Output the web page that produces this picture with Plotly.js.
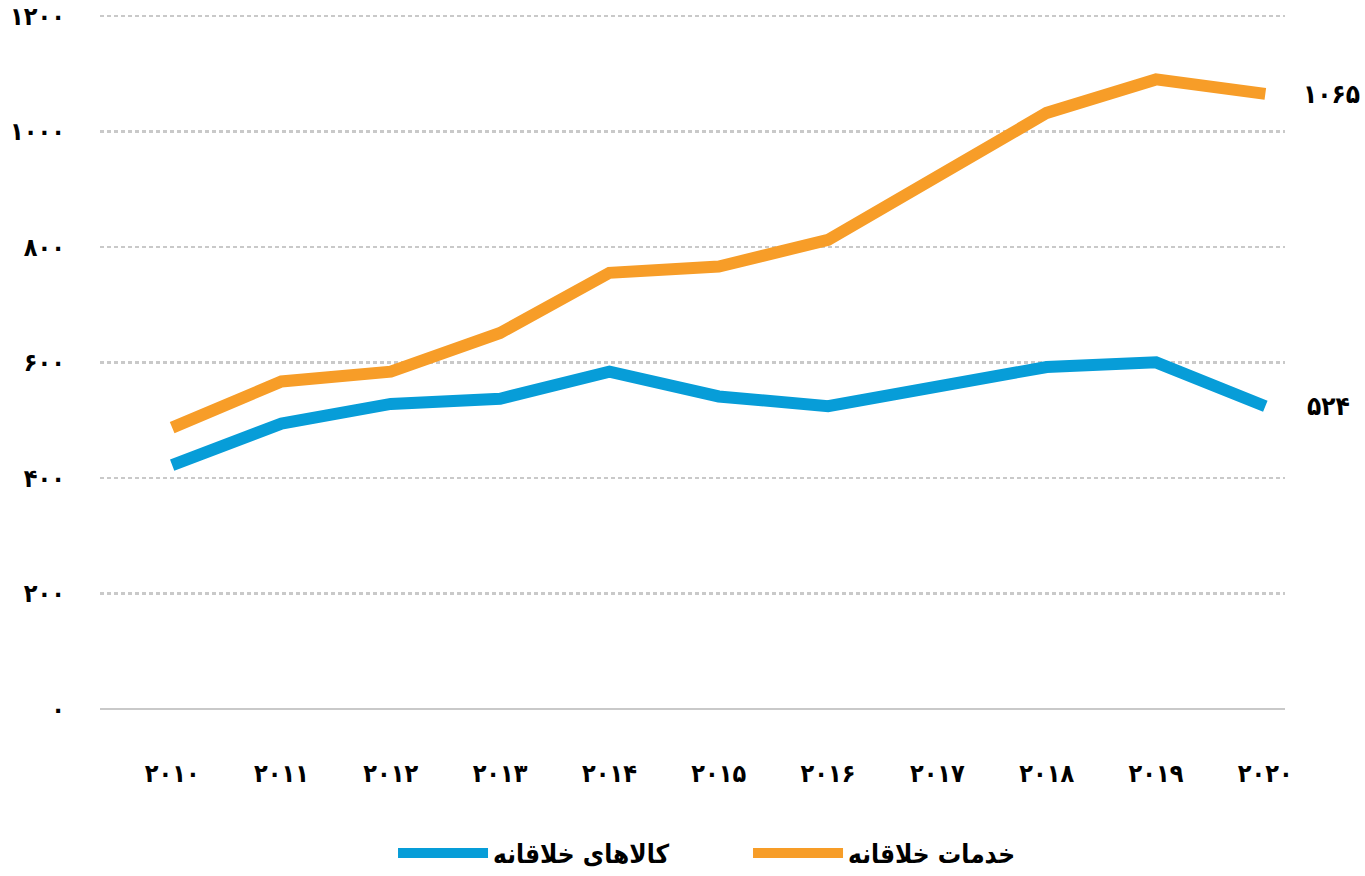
<!DOCTYPE html>
<html>
<head>
<meta charset="utf-8">
<script src="https://cdn.plot.ly/plotly-3.0.1.min.js"></script>
<style>
  html, body { margin: 0; padding: 0; background: #ffffff; }
  #chart { width: 1365px; height: 876px; }
</style>
</head>
<body>
<div id="chart"></div>
<script>
// ---- data ----
const years = [2010, 2011, 2012, 2013, 2014, 2015, 2016, 2017, 2018, 2019, 2020];
const services = [487, 567, 584, 651, 755, 766, 812, 924, 1032, 1090, 1065]; // خدمات خلاقانه
const goods = [422, 494, 528, 537, 584, 541, 524, 556, 592, 600, 524];        // کالاهای خلاقانه
const yTicks = [0, 200, 400, 600, 800, 1000, 1200];
const seriesNames = ['کالاهای خلاقانه', 'خدمات خلاقانه'];

// Persian digit formatting
function fa(n) {
  const d = '۰۱۲۳۴۵۶۷۸۹';
  return String(n).replace(/[0-9]/g, c => d[+c]);
}

const FONT = '"DejaVu Sans Condensed", "DejaVu Sans", sans-serif';
const BLUE = '#079DD8';
const ORANGE = '#F79D28';

const traces = [
  {
    x: years, y: goods, name: seriesNames[0], type: 'scatter', mode: 'lines',
    line: { color: BLUE, width: 12 }, hoverinfo: 'skip'
  },
  {
    x: years, y: services, name: seriesNames[1], type: 'scatter', mode: 'lines',
    line: { color: ORANGE, width: 12 }, hoverinfo: 'skip'
  }
];

const lastIdx = years.length - 1;
const layout = {
  width: 1365, height: 876,
  margin: { l: 100, r: 80, t: 13, b: 166, autoexpand: false },
  paper_bgcolor: '#ffffff', plot_bgcolor: '#ffffff',
  font: { family: FONT, color: '#000000', size: 22 },
  showlegend: true,
  legend: {
    orientation: 'h', x: 0.548, xanchor: 'center', xref: 'container',
    y: 0.026, yanchor: 'middle', yref: 'container',
    font: { family: FONT, size: 26, color: '#000', weight: 'bold' },
    itemwidth: 90, entrywidth: 250, entrywidthmode: 'pixels',
    traceorder: 'normal', itemclick: false, itemdoubleclick: false
  },
  xaxis: {
    range: [2009.34, 2020.18],
    tickvals: years, ticktext: years.map(fa),
    showgrid: false, zeroline: false, showline: false,
    ticks: '', ticklabelstandoff: 46,
    tickfont: { family: FONT, size: 25, color: '#000', weight: 'bold' },
    fixedrange: true
  },
  yaxis: {
    range: [-2, 1205],
    tickvals: yTicks, ticktext: yTicks.map(fa),
    showgrid: true, gridcolor: '#c9c9c9', gridwidth: 2.5, griddash: '4px,3px',
    zeroline: true, zerolinecolor: '#c9c9c9', zerolinewidth: 2,
    showline: false, ticks: '', ticklabelstandoff: 34, ticklabeloverflow: 'allow',
    tickfont: { family: FONT, size: 25, color: '#000', weight: 'bold' },
    fixedrange: true
  },
  annotations: [
    {
      x: years[lastIdx], y: services[lastIdx], xref: 'x', yref: 'y',
      text: fa(services[lastIdx]), showarrow: false, xanchor: 'left', yanchor: 'middle',
      xshift: 36, font: { family: FONT, size: 26, color: '#000', weight: 'bold' }
    },
    {
      x: years[lastIdx], y: goods[lastIdx], xref: 'x', yref: 'y',
      text: fa(goods[lastIdx]), showarrow: false, xanchor: 'left', yanchor: 'middle',
      xshift: 40, font: { family: FONT, size: 26, color: '#000', weight: 'bold' }
    }
  ]
};

Plotly.newPlot('chart', traces, layout, { displayModeBar: false, staticPlot: true });
</script>
</body>
</html>
